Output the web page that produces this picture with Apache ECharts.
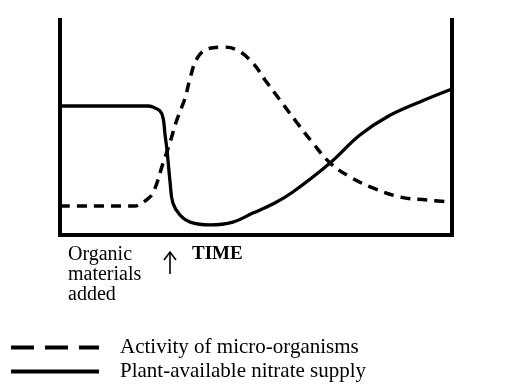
<!DOCTYPE html>
<html>
<head>
<meta charset="utf-8">
<script src="https://cdn.jsdelivr.net/npm/echarts@6/dist/echarts.min.js"></script>
<style>html,body{margin:0;padding:0;background:#fff;}#c{width:527px;height:387px;}</style>
</head>
<body>
<div id="c"></div>
<script>
// Time (0-100) and relative level (0-100)
const activityTime = [0, 19.1, 20.9, 21.7, 23.7, 26.3, 28.1, 29.8, 31.9, 33.2, 34.9, 37.5, 41.6, 45.2, 49.2, 52.3, 56.1, 60.5, 64.5, 68.9, 74.0, 79.8, 86.7, 93.6, 100];
const activityValues = [13.5, 13.5, 14.9, 15.8, 19.5, 33.5, 43.3, 53.5, 63.7, 73.0, 81.9, 86.5, 87.4, 86.0, 80.0, 72.1, 62.8, 52.1, 42.8, 33.5, 27.0, 21.9, 17.7, 16.3, 15.3];
const nitrateTime = [0, 22.4, 23.7, 25.5, 26.3, 26.8, 27.3, 28.1, 28.8, 30.6, 33.2, 38.3, 44.1, 49.2, 54.8, 59.4, 68.9, 76.5, 83.4, 91.8, 100];
const nitrateValues = [60.0, 60.0, 59.5, 57.7, 54.4, 46.5, 39.5, 24.2, 14.9, 9.3, 6.0, 4.7, 6.0, 10.2, 14.9, 20.0, 33.5, 46.5, 54.9, 61.9, 67.9];
const seriesNames = ['Activity of micro-organisms', 'Plant-available nitrate supply'];
const axisLabelText = ['Organic\nmaterials\nadded', 'TIME'];

const serif = '"Liberation Serif", "DejaVu Serif", serif';
const pair = (xs, ys) => xs.map((x, i) => [x, ys[i]]);
const chart = echarts.init(document.getElementById('c'), null, {renderer: 'canvas'});
const axisLine = {show: true, onZero: false, lineStyle: {color: '#000', width: 4, cap: 'square'}};
const legendText = {fontFamily: serif, fontSize: 21, color: '#000', padding: [0, 0, 0, 16]};
chart.setOption({
  animation: false,
  backgroundColor: '#fff',
  grid: {left: 60, right: 75, top: 20, bottom: 152},
  xAxis: {type: 'value', min: 0, max: 100, axisLine: axisLine, axisTick: {show: false}, axisLabel: {show: false}, splitLine: {show: false}},
  yAxis: [
    {type: 'value', min: 0, max: 100, position: 'left', axisLine: axisLine, axisTick: {show: false}, axisLabel: {show: false}, splitLine: {show: false}},
    {type: 'value', min: 0, max: 100, position: 'right', axisLine: axisLine, axisTick: {show: false}, axisLabel: {show: false}, splitLine: {show: false}}
  ],
  legend: [
    {left: 9, top: 337, padding: 0, itemWidth: 88, itemHeight: 14, textStyle: legendText, selectedMode: false,
     data: [{name: seriesNames[0], itemStyle: {opacity: 0}, lineStyle: {type: [23, 11], width: 4, color: '#000'}}]},
    {left: 9, top: 361, padding: 0, itemWidth: 88, itemHeight: 14, textStyle: legendText, selectedMode: false,
     data: [{name: seriesNames[1], itemStyle: {opacity: 0}, lineStyle: {type: 'solid', width: 4, color: '#000'}}]}
  ],
  series: [
    {name: seriesNames[0], type: 'line', data: pair(activityTime, activityValues), smooth: 0.4, symbol: 'none',
     lineStyle: {color: '#000', width: 3.5, type: [10, 7]}, itemStyle: {color: '#000'}},
    {name: seriesNames[1], type: 'line', data: pair(nitrateTime, nitrateValues), smooth: 0.4, symbol: 'none',
     lineStyle: {color: '#000', width: 3.3, type: 'solid'}, itemStyle: {color: '#000'}}
  ],
  graphic: [
    {type: 'text', left: 68, top: 245, style: {text: axisLabelText[0], font: '20px ' + serif, lineHeight: 20, fill: '#000'}},
    {type: 'text', left: 192, top: 245, style: {text: axisLabelText[1], font: 'bold 19px ' + serif, fill: '#000'}},
    {type: 'polyline', shape: {points: [[170, 253], [170, 274]]}, style: {stroke: '#000', lineWidth: 1.6, fill: null}},
    {type: 'polyline', shape: {points: [[164, 260], [170, 252], [176, 260]]}, style: {stroke: '#000', lineWidth: 1.6, fill: null}}
  ]
});
</script>
</body>
</html>
